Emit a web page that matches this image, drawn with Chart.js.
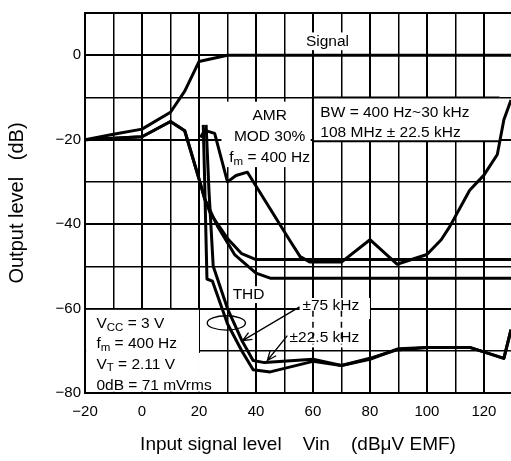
<!DOCTYPE html>
<html>
<head>
<meta charset="utf-8">
<script src="https://cdn.jsdelivr.net/npm/chart.js@4.4.0/dist/chart.umd.min.js"></script>
<style>
  html, body { margin: 0; padding: 0; background: #fff; }
</style>
</head>
<body>
<canvas id="myChart" width="511" height="461"></canvas>
<script>
// values: input level (dBuV EMF) -> output level (dB)
var signalX = [-20, -10, 0, 10, 15, 20, 30, 129.5];
var signalY = [-20, -18.7, -17.5, -13.5, -8.5, -1.5, 0, 0];

var noiseAX = [-20, 0, 10, 15, 20, 22, 24, 30, 35, 40, 129.5];
var noiseAY = [-20, -19.3, -15.7, -17.9, -29.3, -34, -37.5, -43.4, -47, -48.4, -48.4];
var noiseBX = [-20, 0, 10, 15, 20, 22, 26.5, 32.5, 40, 45, 129.5];
var noiseBY = [-20, -19.3, -15.7, -17.9, -29.3, -34, -40.5, -47.2, -51.6, -52.8, -52.8];

var amrX = [20.5, 22, 25.5, 30, 33, 37, 52, 55.5, 59, 70, 80, 89.5, 100, 105, 108, 115, 120, 124.7, 127, 129.5];
var amrY = [-19.5, -17.8, -18.5, -30, -28.5, -27.7, -44, -47.7, -49, -49, -43.7, -49.5, -47.2, -43.7, -40.6, -32, -28.4, -23.5, -15.3, -10.6];

// THD, +-75 kHz and +-22.5 kHz deviation
var thd75X = [21.5, 22, 22.8, 24.7, 30, 35, 39, 45, 60, 70, 80, 90, 100, 115, 127, 129.5];
var thd75Y = [-16.5, -30, -53, -53.5, -63.6, -70, -74.5, -75, -72.5, -73.5, -72, -69.5, -69.2, -69.2, -71.8, -65];
var thd22X = [22.5, 23.5, 25, 30, 35, 39, 43, 60, 70, 81, 89.5, 100, 115, 127, 129.5];
var thd22Y = [-16.5, -32, -50, -60, -67.5, -72.3, -72.8, -72, -73.5, -71.6, -69.8, -69.2, -69.2, -71.8, -65];

var xGrid = [-20, -10, 0, 10, 20, 30, 40, 50, 60, 70, 80, 90, 100, 110, 120];
var xTicks = [-20, 0, 20, 40, 60, 80, 100, 120];
var yTicks = [-80, -60, -40, -20, 0];

var FONT = "'Liberation Sans', Arial, sans-serif";
Chart.defaults.font.family = FONT;
Chart.defaults.font.size = 15;
Chart.defaults.color = "#000";

function toPoints(xs, ys) {
  return xs.map(function (x, i) { return { x: x, y: ys[i] }; });
}

function fmt(v) {
  return v < 0 ? "\u2212" + Math.abs(v) : "" + v;
}

function curve(xs, ys) {
  return {
    data: toPoints(xs, ys),
    showLine: true,
    borderColor: "#000",
    borderWidth: 3,
    pointRadius: 0,
    tension: 0,
    borderJoinStyle: "round",
  };
}

// text with subscripts: runs = [[text, isSub], ...]
function drawRuns(ctx, runs, x, y, align) {
  var w = 0;
  runs.forEach(function (r) {
    ctx.font = (r[1] ? "11.5px " : "15.5px ") + FONT;
    w += ctx.measureText(r[0]).width;
  });
  var cx = align === "center" ? x - w / 2 : x;
  ctx.textAlign = "left";
  ctx.textBaseline = "middle";
  runs.forEach(function (r) {
    ctx.font = (r[1] ? "11.5px " : "15.5px ") + FONT;
    ctx.fillText(r[0], cx, r[1] ? y + 4 : y);
    cx += ctx.measureText(r[0]).width;
  });
}

function arrow(ctx, x1, y1, x2, y2) {
  var a = Math.atan2(y2 - y1, x2 - x1);
  ctx.beginPath();
  ctx.moveTo(x1, y1);
  ctx.lineTo(x2, y2);
  ctx.moveTo(x2 - 10 * Math.cos(a - 0.4), y2 - 10 * Math.sin(a - 0.4));
  ctx.lineTo(x2, y2);
  ctx.lineTo(x2 - 10 * Math.cos(a + 0.4), y2 - 10 * Math.sin(a + 0.4));
  ctx.stroke();
}

var notes = {
  id: "notes",
  beforeDatasetsDraw: function (chart) {
    var ctx = chart.ctx, sx = chart.scales.x, sy = chart.scales.y;
    function box(x1, y1, x2, y2) {
      var a = sx.getPixelForValue(x1), b = sy.getPixelForValue(y1);
      ctx.fillRect(a, b, sx.getPixelForValue(x2) - a, sy.getPixelForValue(y2) - b);
    }
    ctx.save();
    ctx.fillStyle = "#fff";
    box(56.2, 5.4, 74, 1.2);         // Signal
    box(27.9, -11, 59.2, -26.5);     // AMR
    box(-19.6, -60.3, 20, -79.7);    // Vcc box
    box(20, -70.5, 29.6, -79.7);
    box(31, -54.7, 44.7, -58.7);     // THD
    box(55.3, -57.5, 80, -62.5);     // 75 kHz
    box(51.2, -62.5, 78.5, -69.2);   // 22.5 kHz
    // BW box
    var l = sx.getPixelForValue(60), r = sx.getPixelForValue(125.5);
    var t = sy.getPixelForValue(-10), b = sy.getPixelForValue(-20.4);
    ctx.fillRect(l, t, r - l, b - t);
    ctx.strokeStyle = "#000";
    ctx.lineWidth = 2;
    ctx.beginPath();
    ctx.moveTo(r, t); ctx.lineTo(l, t); ctx.lineTo(l, b); ctx.lineTo(r, b);
    ctx.stroke();
    // broken grid lines behind the deviation labels
    ctx.lineWidth = 1.5;
    ctx.setLineDash([6, 5]);
    [60, 70].forEach(function (v) {
      ctx.beginPath();
      ctx.moveTo(sx.getPixelForValue(v), sy.getPixelForValue(-60.5));
      ctx.lineTo(sx.getPixelForValue(v), sy.getPixelForValue(-68.5));
      ctx.stroke();
    });
    ctx.restore();
  },
  afterDatasetsDraw: function (chart) {
    var ctx = chart.ctx, sx = chart.scales.x, sy = chart.scales.y;
    function X(v) { return sx.getPixelForValue(v); }
    function Y(v) { return sy.getPixelForValue(v); }
    ctx.save();
    ctx.fillStyle = "#000";
    drawRuns(ctx, [["Signal"]], X(65.1), Y(3.3), "center");
    drawRuns(ctx, [["AMR"]], X(44.8), Y(-14.3), "center");
    drawRuns(ctx, [["MOD 30%"]], X(44.8), Y(-19.2), "center");
    drawRuns(ctx, [["f"], ["m", true], [" = 400 Hz"]], X(44.8), Y(-24.2), "center");
    drawRuns(ctx, [["BW = 400 Hz~30 kHz"]], X(62.6), Y(-13.6), "left");
    drawRuns(ctx, [["108 MHz \u00b1 22.5 kHz"]], X(62.6), Y(-18.4), "left");
    drawRuns(ctx, [["V"], ["CC", true], [" = 3 V"]], X(-16), Y(-63.6), "left");
    drawRuns(ctx, [["f"], ["m", true], [" = 400 Hz"]], X(-16), Y(-68.4), "left");
    drawRuns(ctx, [["V"], ["T", true], [" = 2.11 V"]], X(-16), Y(-73.2), "left");
    drawRuns(ctx, [["0dB = 71 mVrms"]], X(-16), Y(-78.2), "left");
    drawRuns(ctx, [["THD"]], X(37.4), Y(-56.8), "center");
    drawRuns(ctx, [["\u00b175 kHz"]], X(56.3), Y(-59.4), "left");
    drawRuns(ctx, [["\u00b122.5 kHz"]], X(51.8), Y(-66.9), "left");
    ctx.strokeStyle = "#000";
    ctx.lineWidth = 1.3;
    arrow(ctx, X(55.3), Y(-59.6), X(35.3), Y(-67.6));
    arrow(ctx, X(51), Y(-66.4), X(44), Y(-72.3));
    ctx.beginPath();
    ctx.ellipse(X(29.6), Y(-63.4), X(29.6) - X(22.9), Y(-65.1) - Y(-63.4), 0, 0, Math.PI * 2);
    ctx.stroke();
    ctx.restore();
  },
};

var ctx = document.getElementById("myChart");
var myChart = new Chart(ctx, {
  type: "scatter",
  data: {
    datasets: [
      curve(signalX, signalY),
      curve(noiseAX, noiseAY),
      curve(noiseBX, noiseBY),
      curve(amrX, amrY),
      curve(thd75X, thd75Y),
      curve(thd22X, thd22Y),
    ],
  },
  options: {
    responsive: false,
    animation: false,
    layout: { padding: { top: 10, left: 0, right: 0, bottom: 0 } },
    plugins: { legend: { display: false }, tooltip: { enabled: false } },
    scales: {
      x: {
        type: "linear",
        min: -20,
        max: 129.5,
        afterBuildTicks: function (s) {
          s.ticks = xGrid.map(function (v) { return { value: v }; });
        },
        afterFit: function (s) { s.height = 68; },
        ticks: {
          autoSkip: false,
          maxRotation: 0,
          padding: 10,
          callback: function (v) { return xTicks.indexOf(v) >= 0 ? fmt(v) : ""; },
        },
        grid: {
          color: "#000",
          drawTicks: false,
          lineWidth: function (c) { return c.tick && xTicks.indexOf(c.tick.value) >= 0 ? 2 : 1.5; },
        },
        border: { color: "#000", width: 2 },
        title: {
          display: true,
          text: "Input signal level    Vin    (dB\u03bcV EMF)",
          font: { size: 19 },
          padding: { top: 0, bottom: 5 },
        },
      },
      y: {
        min: -80,
        max: 10,
        afterFit: function (s) { s.width = 85; },
        ticks: {
          stepSize: 10,
          padding: 4,
          callback: function (v) { return yTicks.indexOf(v) >= 0 ? fmt(v) : ""; },
        },
        grid: {
          color: "#000",
          drawTicks: false,
          lineWidth: function (c) {
            return c.tick && (yTicks.indexOf(c.tick.value) >= 0 || c.tick.value === 10) ? 2 : 1.5;
          },
        },
        border: { color: "#000", width: 2 },
        title: {
          display: true,
          text: "Output level   (dB)",
          font: { size: 20 },
          padding: { top: 5, bottom: 0 },
        },
      },
    },
  },
  plugins: [notes],
});
</script>
</body>
</html>
